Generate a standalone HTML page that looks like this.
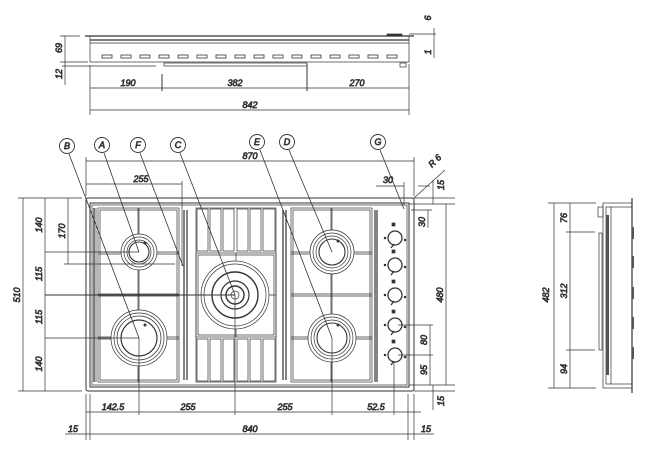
<!DOCTYPE html>
<html><head><meta charset="utf-8"><style>
html,body{margin:0;padding:0;background:#fff}
svg{display:block}
text{font-family:"Liberation Sans",sans-serif;font-size:9px;font-style:italic;fill:#222}
</style></head><body>
<svg width="650" height="460" viewBox="0 0 650 460" xmlns="http://www.w3.org/2000/svg" fill="none" stroke="#333" stroke-width="0.7">
<defs>
<g id="grL">
<rect x="98" y="208" width="81" height="174"/>
<rect x="100" y="210" width="77" height="170"/>
<line x1="139" y1="208" x2="139" y2="382"/><line x1="138" y1="208" x2="138" y2="382"/>
<line x1="98" y1="252" x2="179" y2="252"/><line x1="98" y1="254" x2="179" y2="254"/>
<line x1="98" y1="294" x2="179" y2="294"/><line x1="98" y1="296" x2="179" y2="296"/>
<line x1="98" y1="337" x2="179" y2="337"/><line x1="98" y1="339" x2="179" y2="339"/>
</g>
<g id="knob"><circle r="7" stroke-width="1.3"/><circle cx="-10" r="0.9" fill="#333"/><circle cx="10" cy="2" r="0.9" fill="#333"/><rect x="-3" y="-15" width="3" height="3" fill="#333"/><line x1="-1" y1="6" x2="-4" y2="10" stroke-width="1.3"/></g>
</defs>

<!-- TOP VIEW -->
<rect x="90" y="36" width="319" height="26"/>
<line x1="85" y1="36" x2="414" y2="36" stroke-width="1.3"/>
<line x1="90" y1="40" x2="409" y2="40" stroke-width="1.2"/>
<line x1="90" y1="43" x2="409" y2="43"/>
<rect x="387" y="34" width="15" height="2" fill="#333"/>
<g stroke-width="0.8">
<rect x="102" y="55" width="10" height="3"/><rect x="121" y="55" width="10" height="3"/><rect x="140" y="55" width="10" height="3"/><rect x="159" y="55" width="10" height="3"/><rect x="178" y="55" width="10" height="3"/><rect x="197" y="55" width="10" height="3"/><rect x="216" y="55" width="10" height="3"/><rect x="235" y="55" width="10" height="3"/><rect x="254" y="55" width="10" height="3"/><rect x="273" y="55" width="10" height="3"/><rect x="292" y="55" width="10" height="3"/><rect x="311" y="55" width="10" height="3"/><rect x="330" y="55" width="10" height="3"/><rect x="349" y="55" width="10" height="3"/><rect x="368" y="55" width="10" height="3"/><rect x="387" y="55" width="10" height="3"/>
</g>
<rect x="164" y="63" width="143" height="3"/>
<rect x="400" y="63" width="6" height="4"/>
<line x1="60" y1="36" x2="80" y2="36"/><line x1="60" y1="62" x2="88" y2="62"/><line x1="62" y1="66" x2="156" y2="66"/>
<line x1="65" y1="36" x2="65" y2="85"/>
<text transform="translate(62,48) rotate(-90)" text-anchor="middle">69</text>
<text transform="translate(62,74) rotate(-90)" text-anchor="middle">12</text>
<line x1="409" y1="34" x2="436" y2="34"/><line x1="434" y1="28" x2="434" y2="58"/>
<text transform="translate(431,18) rotate(-90)" text-anchor="middle">6</text>
<text transform="translate(431,52) rotate(-90)" text-anchor="middle">1</text>
<line x1="90" y1="88" x2="409" y2="88"/>
<line x1="90" y1="65" x2="90" y2="115"/><line x1="162" y1="74" x2="162" y2="91" stroke-width="1"/><line x1="307" y1="64" x2="307" y2="91" stroke-width="1"/><line x1="409" y1="64" x2="409" y2="115"/>
<text x="128" y="86" text-anchor="middle">190</text><text x="235" y="86" text-anchor="middle">382</text><text x="357" y="86" text-anchor="middle">270</text>
<line x1="90" y1="110" x2="409" y2="110"/><text x="250" y="108" text-anchor="middle">842</text>

<!-- PLAN VIEW -->
<rect x="86" y="198" width="328" height="193" rx="2" stroke-width="1"/>
<rect x="90" y="203" width="319" height="184" stroke-width="1"/>
<rect x="92" y="205" width="315" height="180"/>
<line x1="94" y1="208" x2="94" y2="382" stroke-width="1.3"/>
<line x1="96" y1="208" x2="96" y2="382"/>
<use href="#grL"/>
<use href="#grL" transform="translate(193,0)"/>
<g stroke-width="1.2"><line x1="184" y1="210" x2="184" y2="380"/><line x1="187" y1="210" x2="187" y2="380"/>
<line x1="283" y1="210" x2="283" y2="380"/><line x1="286" y1="210" x2="286" y2="380"/>
<line x1="375" y1="210" x2="375" y2="382"/><line x1="377" y1="210" x2="377" y2="382"/></g>
<!-- center grate -->
<rect x="196" y="208" width="80" height="174"/>
<rect x="196" y="253" width="80" height="84"/><rect x="198" y="255" width="76" height="80"/>
<line x1="236" y1="253" x2="236" y2="337"/><line x1="196" y1="295" x2="276" y2="295"/>
<g>
<rect x="197" y="209" width="11" height="42"/><rect x="210" y="209" width="11" height="42"/><rect x="223" y="209" width="11" height="42"/><rect x="237" y="209" width="11" height="42"/><rect x="250" y="209" width="11" height="42"/><rect x="263" y="209" width="12" height="42"/>
<rect x="197" y="339" width="11" height="42"/><rect x="210" y="339" width="11" height="42"/><rect x="223" y="339" width="11" height="42"/><rect x="237" y="339" width="11" height="42"/><rect x="250" y="339" width="11" height="42"/><rect x="263" y="339" width="12" height="42"/>
</g>
<!-- burners -->
<g fill="#fff">
<circle cx="139" cy="252" r="18"/><circle cx="139" cy="252" r="15"/><circle cx="139" cy="252" r="12"/><circle cx="139" cy="252" r="10" stroke-width="1.1"/>
<circle cx="139" cy="338" r="28"/><circle cx="139" cy="338" r="25"/><circle cx="139" cy="338" r="22"/><circle cx="139" cy="338" r="18" stroke-width="1.2"/>
<circle cx="332" cy="252" r="22"/><circle cx="332" cy="252" r="19"/><circle cx="332" cy="252" r="16"/><circle cx="332" cy="252" r="13" stroke-width="1.1"/>
<circle cx="332" cy="338" r="24"/><circle cx="332" cy="338" r="21"/><circle cx="332" cy="338" r="18"/><circle cx="332" cy="338" r="15" stroke-width="1.1"/>
<circle cx="235" cy="295" r="34"/><circle cx="235" cy="295" r="31"/><circle cx="235" cy="295" r="23" stroke-width="1.4"/><circle cx="235" cy="295" r="14" stroke-width="1.2"/><circle cx="235" cy="295" r="9" stroke-width="1.4"/><circle cx="235" cy="295" r="4"/>
</g>
<g fill="#333" stroke="none"><circle cx="145" cy="243" r="1.5"/><circle cx="145" cy="325" r="1.5"/><circle cx="338" cy="241" r="1.5"/><circle cx="338" cy="325" r="1.5"/></g>
<!-- knobs -->
<use href="#knob" x="395" y="238"/><use href="#knob" x="395" y="265"/><use href="#knob" x="395" y="295"/><use href="#knob" x="395" y="325"/><use href="#knob" x="395" y="355"/>

<!-- leaders -->
<g stroke-width="0.8">
<line x1="69" y1="154" x2="139" y2="338"/><line x1="104" y1="153" x2="139" y2="252"/><line x1="140" y1="153" x2="183" y2="266"/>
<line x1="180" y1="153" x2="235" y2="295"/><line x1="260" y1="150" x2="332" y2="338"/><line x1="289" y1="150" x2="332" y2="252"/><line x1="380" y1="150" x2="404" y2="209"/>
</g>
<g fill="#fff" stroke-width="0.9">
<circle cx="67" cy="146" r="7.5"/><circle cx="102" cy="145" r="7.5"/><circle cx="138" cy="145" r="7.5"/><circle cx="178" cy="145" r="7.5"/><circle cx="257" cy="142" r="7.5"/><circle cx="287" cy="142" r="7.5"/><circle cx="378" cy="142" r="7.5"/>
</g>
<g style="font-style:normal;font-size:9px" text-anchor="middle">
<text x="67" y="149">B</text><text x="102" y="148">A</text><text x="138" y="148">F</text><text x="178" y="148">C</text><text x="257" y="145">E</text><text x="287" y="145">D</text><text x="378" y="145">G</text>
</g>

<!-- dimensions top -->
<line x1="86" y1="161" x2="414" y2="161"/><line x1="86" y1="157" x2="86" y2="196"/><line x1="414" y1="157" x2="414" y2="196"/>
<text x="250" y="159" text-anchor="middle">870</text>
<line x1="86" y1="184" x2="182" y2="184"/><line x1="182" y1="181" x2="182" y2="266"/>
<text x="141" y="182" text-anchor="middle">255</text>
<line x1="376" y1="186" x2="404" y2="186"/><line x1="404" y1="182" x2="404" y2="205"/>
<text x="388" y="183" text-anchor="middle">30</text>
<line x1="414" y1="198" x2="445" y2="170"/><text transform="translate(437,163) rotate(-45)" text-anchor="middle">R 6</text>
<line x1="418" y1="186" x2="430" y2="186"/>
<line x1="414" y1="198" x2="455" y2="198"/><line x1="409" y1="204" x2="455" y2="204"/>
<line x1="433" y1="180" x2="433" y2="204"/><text transform="translate(444,185) rotate(-90)" text-anchor="middle">15</text>
<line x1="411" y1="210" x2="432" y2="210"/><line x1="428" y1="210" x2="428" y2="228"/><text transform="translate(425,222) rotate(-90)" text-anchor="middle">30</text>
<!-- left dims -->
<line x1="18" y1="198" x2="82" y2="198"/><line x1="18" y1="391" x2="82" y2="391"/>
<line x1="23" y1="198" x2="23" y2="391"/><text transform="translate(20,295) rotate(-90)" text-anchor="middle">510</text>
<line x1="45" y1="198" x2="45" y2="391"/>
<line x1="45" y1="252" x2="139" y2="252"/><line x1="45" y1="295" x2="235" y2="295" stroke-width="1"/><line x1="45" y1="338" x2="139" y2="338"/>
<text transform="translate(42,225) rotate(-90)" text-anchor="middle">140</text>
<text transform="translate(42,274) rotate(-90)" text-anchor="middle">115</text>
<text transform="translate(42,317) rotate(-90)" text-anchor="middle">115</text>
<text transform="translate(42,364) rotate(-90)" text-anchor="middle">140</text>
<line x1="68" y1="198" x2="68" y2="264"/><line x1="64" y1="264" x2="175" y2="264"/>
<text transform="translate(65,231) rotate(-90)" text-anchor="middle">170</text>
<!-- right dims -->
<line x1="446" y1="204" x2="446" y2="385"/><text transform="translate(443,295) rotate(-90)" text-anchor="middle">480</text>
<line x1="409" y1="385" x2="455" y2="385"/><line x1="414" y1="391" x2="455" y2="391"/>
<line x1="433" y1="385" x2="433" y2="410"/><text transform="translate(444,401) rotate(-90)" text-anchor="middle">15</text>
<line x1="398" y1="325" x2="433" y2="325"/><line x1="398" y1="355" x2="433" y2="355"/>
<line x1="430" y1="325" x2="430" y2="385"/>
<text transform="translate(427,340) rotate(-90)" text-anchor="middle">80</text>
<text transform="translate(427,370) rotate(-90)" text-anchor="middle">95</text>
<!-- bottom dims -->
<line x1="86" y1="412" x2="421" y2="412"/>
<line x1="86" y1="394" x2="86" y2="440"/><line x1="139" y1="338" x2="139" y2="415"/><line x1="235" y1="295" x2="235" y2="415"/><line x1="332" y1="338" x2="332" y2="415"/><line x1="394" y1="362" x2="394" y2="415"/>
<line x1="408" y1="394" x2="408" y2="440"/><line x1="414" y1="394" x2="414" y2="440"/><line x1="90" y1="394" x2="90" y2="440"/>
<text x="113" y="410" text-anchor="middle">142.5</text><text x="188" y="410" text-anchor="middle">255</text><text x="285" y="410" text-anchor="middle">255</text><text x="376" y="410" text-anchor="middle">52.5</text>
<line x1="65" y1="434" x2="434" y2="434"/>
<text x="250" y="432" text-anchor="middle">840</text><text x="73" y="432" text-anchor="middle">15</text><text x="426" y="432" text-anchor="middle">15</text>

<!-- SIDE VIEW -->
<rect x="603" y="203" width="29" height="185"/>
<rect x="606" y="207" width="26" height="177"/>
<line x1="611" y1="207" x2="611" y2="384"/>
<line x1="632" y1="198" x2="632" y2="393" stroke-width="1.2"/>
<rect x="598" y="207" width="5" height="10"/>
<rect x="599" y="233" width="3" height="117"/>
<g fill="#555" stroke="none"><rect x="606" y="215" width="3" height="160"/><rect x="632" y="227" width="2" height="12"/><rect x="632" y="256" width="2" height="12"/><rect x="632" y="287" width="2" height="12"/><rect x="632" y="317" width="2" height="12"/><rect x="632" y="347" width="2" height="12"/></g>
<line x1="548" y1="203" x2="596" y2="203"/><line x1="548" y1="388" x2="596" y2="388"/>
<line x1="554" y1="203" x2="554" y2="388"/><text transform="translate(549,295) rotate(-90)" text-anchor="middle">482</text>
<line x1="570" y1="203" x2="570" y2="388"/>
<line x1="566" y1="232" x2="595" y2="232"/><line x1="566" y1="350" x2="595" y2="350"/>
<text transform="translate(567,218) rotate(-90)" text-anchor="middle">76</text>
<text transform="translate(567,291) rotate(-90)" text-anchor="middle">312</text>
<text transform="translate(567,369) rotate(-90)" text-anchor="middle">94</text>
</svg>
</body></html>
